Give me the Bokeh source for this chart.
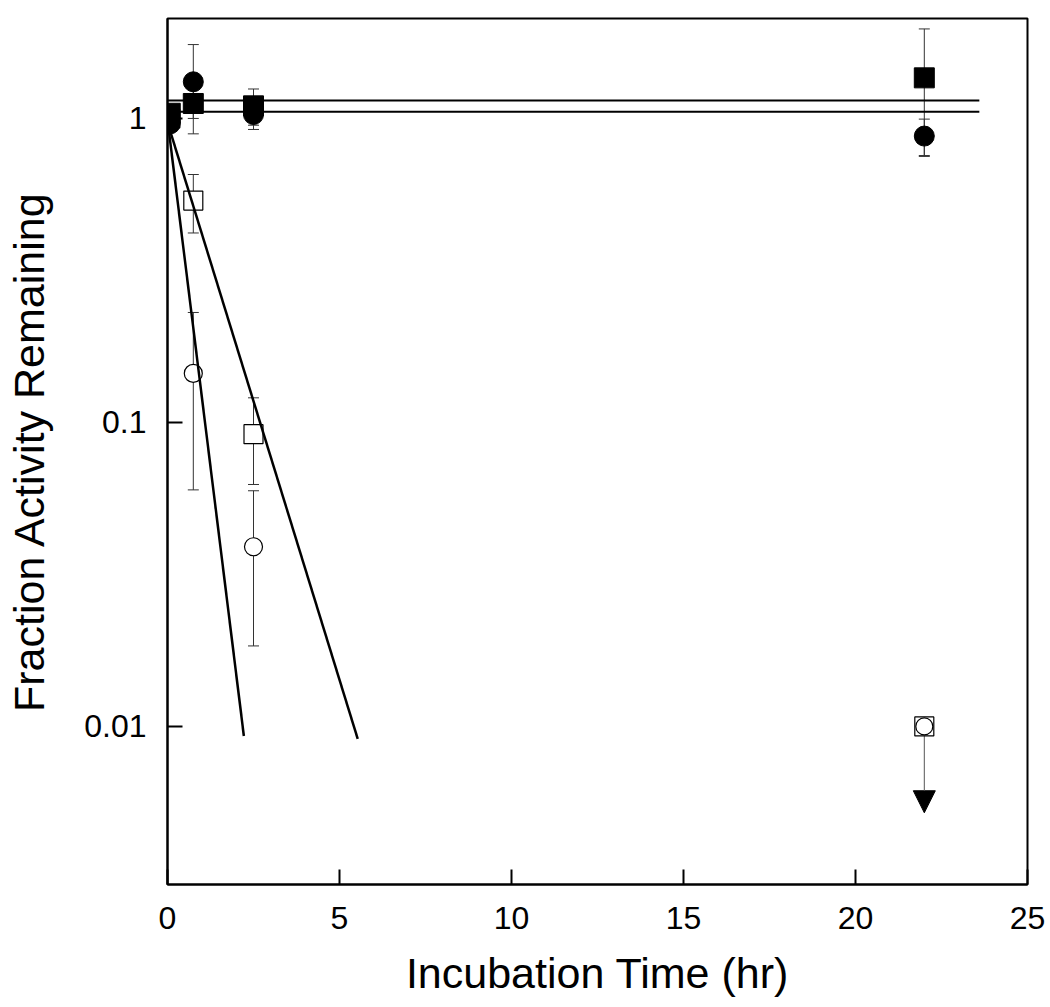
from bokeh.plotting import figure
from bokeh.models import (ColumnDataSource, Whisker, TeeHead, Arrow, NormalHead,
                          FixedTicker, CustomJSTickFormatter, Range1d)
from bokeh.embed import file_html
from bokeh.resources import INLINE

# ---- data ----
time = [0.08, 0.75, 2.5, 22.0]
filled_circle = [0.96, 1.32, 1.03, 0.875]
filled_circle_err = [0.03, 0.43, 0.11, 0.12]
filled_square = [1.04, 1.12, 1.10, 1.36]
filled_square_err = [0.07, 0.12, 0.15, 0.61]

open_time = [0.08, 0.75, 2.5]
open_square = [1.0, 0.537, 0.0915]
open_square_err = [0.0, 0.117, 0.029]
open_circle = [1.0, 0.145, 0.039]
open_circle_err = [0.0, 0.085, 0.0206]

limit_time = [22.0]
limit_value = [0.01]
limit_arrow_end = [0.0052]

fit_time_circle = [0.0, 2.22]
fit_circle = [0.99, 0.0093]
fit_time_square = [0.0, 5.53]
fit_square = [0.97, 0.0091]

flat_time = [0.0, 23.6]
flat_upper = [1.146, 1.146]
flat_lower = [1.052, 1.052]

x_ticks = [0, 5, 10, 15, 20, 25]
y_ticks = [0.01, 0.1, 1]

FONT = "Liberation Sans, Arial, sans-serif"

p = figure(x_range=Range1d(0, 25), y_range=Range1d(0.00302, 2.132),
           y_axis_type="log", frame_width=860, frame_height=866,
           min_border_left=167, min_border_top=18, min_border_right=20,
           min_border_bottom=110, output_backend="svg", toolbar_location=None,
           background_fill_color="white", border_fill_color="white")
p.xgrid.visible = False
p.ygrid.visible = False
p.outline_line_color = "black"
p.outline_line_width = 2

p.xaxis.ticker = FixedTicker(ticks=x_ticks, minor_ticks=[])
p.yaxis.ticker = FixedTicker(ticks=y_ticks, minor_ticks=[])
p.yaxis.formatter = CustomJSTickFormatter(code="return tick.toString();")
for ax in (p.xaxis[0], p.yaxis[0]):
    ax.axis_line_width = 2
    ax.axis_line_color = "black"
    ax.major_tick_in = 15
    ax.major_tick_out = 0
    ax.major_tick_line_width = 2
    ax.minor_tick_in = 0
    ax.minor_tick_out = 0
    ax.major_label_text_font = FONT
    ax.major_label_text_font_size = "32px"
    ax.major_label_text_color = "black"
    ax.axis_label_text_font = FONT
    ax.axis_label_text_font_size = "43px"
    ax.axis_label_text_font_style = "normal"
    ax.axis_label_text_color = "black"

p.xaxis.axis_label = "Incubation Time (hr)"
p.yaxis.axis_label = "Fraction Activity Remaining"
p.xaxis.major_label_standoff = 22
p.xaxis.axis_label_standoff = 17
p.yaxis.major_label_standoff = 21
p.yaxis.axis_label_standoff = 28


def add_err(xs, ys, es):
    src = ColumnDataSource(dict(x=xs, lo=[y - e for y, e in zip(ys, es)],
                                hi=[y + e for y, e in zip(ys, es)]))
    w = Whisker(base="x", lower="lo", upper="hi", source=src, dimension="height",
                line_color="#333333", line_width=1,
                upper_head=TeeHead(size=11, line_color="#333333", line_width=1),
                lower_head=TeeHead(size=11, line_color="#333333", line_width=1),
                level="underlay")
    p.add_layout(w)


add_err(open_time[1:], open_square[1:], open_square_err[1:])
add_err(open_time[1:], open_circle[1:], open_circle_err[1:])
add_err(time, filled_circle, filled_circle_err)
add_err(time, filled_square, filled_square_err)

# detection-limit arrow
arrow = Arrow(x_start=limit_time[0], y_start=limit_value[0], x_end=limit_time[0],
              y_end=limit_arrow_end[0], line_color="#555555", line_width=1,
              end=NormalHead(size=22, fill_color="black", line_color="black", line_width=1),
              level="underlay")
p.add_layout(arrow)

# open markers
p.scatter(open_time, open_square, marker="square", size=19, fill_color="white",
          line_color="black", line_width=1.2)
p.scatter(open_time, open_circle, marker="circle", size=18, fill_color="white",
          line_color="black", line_width=1.2)
p.scatter(limit_time, limit_value, marker="square", size=19, fill_color="white",
          line_color="black", line_width=1.2)
p.scatter(limit_time, limit_value, marker="circle", size=17, fill_color="white",
          line_color="black", line_width=1.2)

# fit lines
p.line(fit_time_circle, fit_circle, line_color="black", line_width=2.5)
p.line(fit_time_square, fit_square, line_color="black", line_width=2.5)
p.line(flat_time, flat_upper, line_color="black", line_width=2)
p.line(flat_time, flat_lower, line_color="black", line_width=2)

# filled markers
p.scatter(time, filled_circle, marker="circle", size=20, fill_color="black",
          line_color="black")
p.scatter(time, filled_square, marker="square", size=20, fill_color="black",
          line_color="black")

open("out.html", "w").write(file_html(p, INLINE))
